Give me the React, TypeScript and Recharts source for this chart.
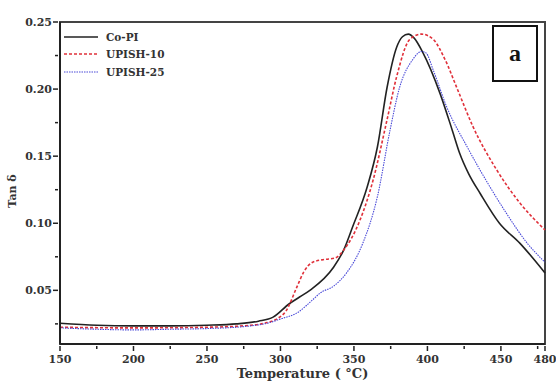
import {
  LineChart,
  Line,
  XAxis,
  YAxis,
  Legend,
  ReferenceArea,
} from 'recharts'

const coPiTemp = [150, 175, 200, 225, 250, 270, 285, 295, 306, 313, 320, 336, 343, 349, 359, 366, 372.5, 379, 383, 387, 391, 397, 408.5, 417, 422, 428, 436, 449, 463, 480]
const coPiTan = [0.0255, 0.024, 0.0235, 0.0235, 0.024, 0.025, 0.027, 0.03, 0.04, 0.045, 0.05, 0.067, 0.08, 0.097, 0.127, 0.157, 0.201, 0.231, 0.239, 0.241, 0.238, 0.227, 0.197, 0.169, 0.152, 0.137, 0.122, 0.1, 0.085, 0.063]

const upish10Temp = [150, 200, 250, 280, 291, 298, 304, 311, 316, 322, 330, 337, 343, 354, 363, 372.5, 379, 388, 396, 404, 412, 420, 431, 447, 463, 480]
const upish10Tan = [0.0225, 0.022, 0.0225, 0.024, 0.026, 0.029, 0.035, 0.052, 0.064, 0.071, 0.073, 0.074, 0.08, 0.102, 0.132, 0.177, 0.209, 0.237, 0.241, 0.237, 0.222, 0.201, 0.172, 0.14, 0.115, 0.095]

const upish25Temp = [150, 175, 200, 225, 250, 280, 291, 301, 311, 322, 327, 336, 345, 356, 366, 374.5, 381, 390, 396, 399, 404, 413, 427, 442.6, 454, 468, 480]
const upish25Tan = [0.022, 0.021, 0.0205, 0.021, 0.0215, 0.0235, 0.0255, 0.029, 0.033, 0.043, 0.048, 0.053, 0.063, 0.085, 0.12, 0.169, 0.201, 0.222, 0.228, 0.227, 0.214, 0.187, 0.157, 0.127, 0.107, 0.085, 0.071]

const xTicks = [150, 175, 200, 225, 250, 275, 300, 325, 350, 375, 400, 425, 450, 475, 480]
const xLabelled = [150, 200, 250, 300, 350, 400, 450, 480]
const yTicks = [0.025, 0.05, 0.075, 0.1, 0.125, 0.15, 0.175, 0.2, 0.225, 0.25]
const yLabelled = [0.05, 0.1, 0.15, 0.2, 0.25]

const zip = (t: number[], v: number[]) => t.map((temp, i) => ({ temp, tan: v[i] }))

const series = [
  { name: 'Co-PI', data: zip(coPiTemp, coPiTan), color: '#222222', dash: undefined, width: 1.6 },
  { name: 'UPISH-10', data: zip(upish10Temp, upish10Tan), color: '#e0303a', dash: '3 2', width: 1.6 },
  { name: 'UPISH-25', data: zip(upish25Temp, upish25Tan), color: '#4a4ad8', dash: '1.5 1', width: 1.1 },
]

const FONT = '"DejaVu Serif", serif'

const XTick = (props: any) => {
  const { x, y, payload } = props
  const major = xLabelled.includes(payload.value)
  return (
    <g>
      <line x1={x} x2={x} y1={y} y2={y + (major ? 5 : 3)} stroke="#222" strokeWidth={1.5} />
      {major && (
        <text x={x} y={y + 17} textAnchor="middle" fontFamily={FONT} fontWeight="bold" fontSize={11} fill="#333">
          {payload.value}
        </text>
      )}
    </g>
  )
}

const YTick = (props: any) => {
  const { x, y, payload } = props
  const major = yLabelled.some(v => Math.abs(v - payload.value) < 1e-6)
  return (
    <g>
      <line x1={x} x2={x - (major ? 5 : 3)} y1={y} y2={y} stroke="#222" strokeWidth={1.5} />
      {major && (
        <text x={x - 6} y={y + 4} textAnchor="end" fontFamily={FONT} fontWeight="bold" fontSize={11} fill="#333">
          {payload.value.toFixed(2)}
        </text>
      )}
    </g>
  )
}

const LegendBox = () => (
  <div style={{ fontFamily: FONT, fontWeight: 'bold', fontSize: 10.5, color: '#333' }}>
    {series.map(s => (
      <div key={s.name} style={{ display: 'flex', alignItems: 'center', height: 17.5 }}>
        <svg width={36} height={6} style={{ marginRight: 6 }}>
          <line x1={0} x2={34} y1={3} y2={3} stroke={s.color} strokeWidth={s.width} strokeDasharray={s.dash} />
        </svg>
        <span>{s.name}</span>
      </div>
    ))}
  </div>
)

export default function App() {
  return (
    <div style={{ position: 'absolute', left: 0, top: 0, width: 556, height: 381, background: '#fff' }}>
      <LineChart width={556} height={381} margin={{ top: 22, right: 11, left: 0, bottom: 0 }}>
        <XAxis
          dataKey="temp"
          type="number"
          domain={[150, 480]}
          ticks={xTicks}
          interval={0}
          allowDuplicatedCategory={false}
          tick={<XTick />}
          tickLine={false}
          tickSize={0}
          height={37}
          axisLine={{ stroke: '#222', strokeWidth: 2 }}
          label={{
            value: 'Temperature ( °C)',
            position: 'insideBottom',
            offset: 3,
            style: { fontFamily: FONT, fontWeight: 'bold', fontSize: 13, fill: '#333' },
          }}
        />
        <YAxis
          type="number"
          domain={[0.01, 0.25]}
          ticks={yTicks}
          interval={0}
          tick={<YTick />}
          tickLine={false}
          tickSize={0}
          width={60}
          axisLine={{ stroke: '#222', strokeWidth: 2 }}
          label={{
            content: ({ viewBox }: any) => (
              <text
                x={16}
                y={viewBox.y + viewBox.height / 2 + 8}
                transform={`rotate(-90, 16, ${viewBox.y + viewBox.height / 2 + 8})`}
                textAnchor="middle"
                fontFamily={FONT}
                fontWeight="bold"
                fontSize={11}
                fill="#333"
              >
                Tan δ
              </text>
            ),
          }}
        />
        <ReferenceArea x1={150} x2={480} y1={0.01} y2={0.25} fill="none" stroke="#444" strokeWidth={2} />
        {series.map(s => (
          <Line
            key={s.name}
            data={s.data}
            dataKey="tan"
            name={s.name}
            type="monotone"
            stroke={s.color}
            strokeWidth={s.width}
            strokeDasharray={s.dash}
            dot={false}
            isAnimationActive={false}
          />
        ))}
        <Legend
          layout="horizontal"
          verticalAlign="middle"
          align="center"
          content={<LegendBox />}
          wrapperStyle={{ position: 'absolute', left: 64, top: 28, width: 'auto', height: 'auto' }}
        />
      </LineChart>
      <div
        style={{
          position: 'absolute',
          left: 492,
          top: 25,
          width: 42,
          height: 53,
          border: '2px solid #111',
          background: '#fff',
          display: 'flex',
          alignItems: 'center',
          justifyContent: 'center',
          fontFamily: '"Liberation Serif", serif',
          fontWeight: 'bold',
          fontSize: 24,
          color: '#111',
        }}
      >
        a
      </div>
    </div>
  )
}
